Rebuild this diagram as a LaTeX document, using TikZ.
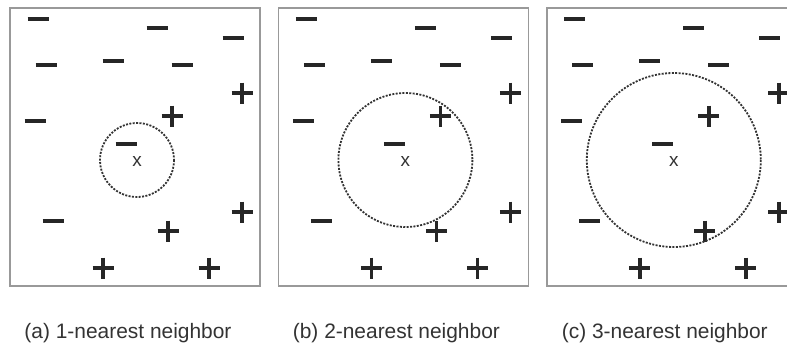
\documentclass[tikz,border=0pt]{standalone}
\usepackage{fontspec}
\setmainfont{Liberation Sans}

\begin{document}
\begin{tikzpicture}[
  x=1bp, y=-1bp,
  panel/.style={rectangle, draw=gray!80, line width=1.6bp, minimum width=250bp, minimum height=278bp, inner sep=0pt},
  negmark/.style={line width=3.6bp, black!85},
  posmark/.style={line width=3.6bp, black!85},
  ball/.style={draw=black!80, line width=1.8bp, dash pattern=on 2bp off 1.4bp},
  query/.style={font=\fontsize{19}{19}\selectfont, text=black!80, inner sep=0pt},
  caption/.style={font=\fontsize{21}{24}\selectfont, text=black!80, inner sep=0pt, anchor=base}
]
\useasboundingbox (0,0) rectangle (787,344);
\clip (0,0) rectangle (787,344);
\foreach \k/\rad/\tag in {0/37/a, 1/67/b, 2/87/c} {
  \begin{scope}[shift={(\k*268.4,0)}]
    \node[panel] (frame-\tag) at (135,147) {};
    % negative examples
    \foreach \px/\py in {38/19, 157/28, 233/38, 46/65, 113/61, 182/65, 35/121, 126/144, 53/221}
      \draw[negmark] (\px-10.5,\py) -- (\px+10.5,\py);
    % positive examples
    \foreach \px/\py in {242/93, 172/116, 242/212, 168/231, 103/268, 209/268}
      \draw[posmark] (\px-10.5,\py) -- (\px+10.5,\py) (\px,\py-10.5) -- (\px,\py+10.5);
    \draw[ball] (137,160) circle[radius=\rad];
    \node[query] (x-\tag) at (137,161) {x};
    \node[caption] (cap-\tag) at (128,338) {(\tag) \the\numexpr\k+1\relax-nearest neighbor};
  \end{scope}
}
\end{tikzpicture}
\end{document}
